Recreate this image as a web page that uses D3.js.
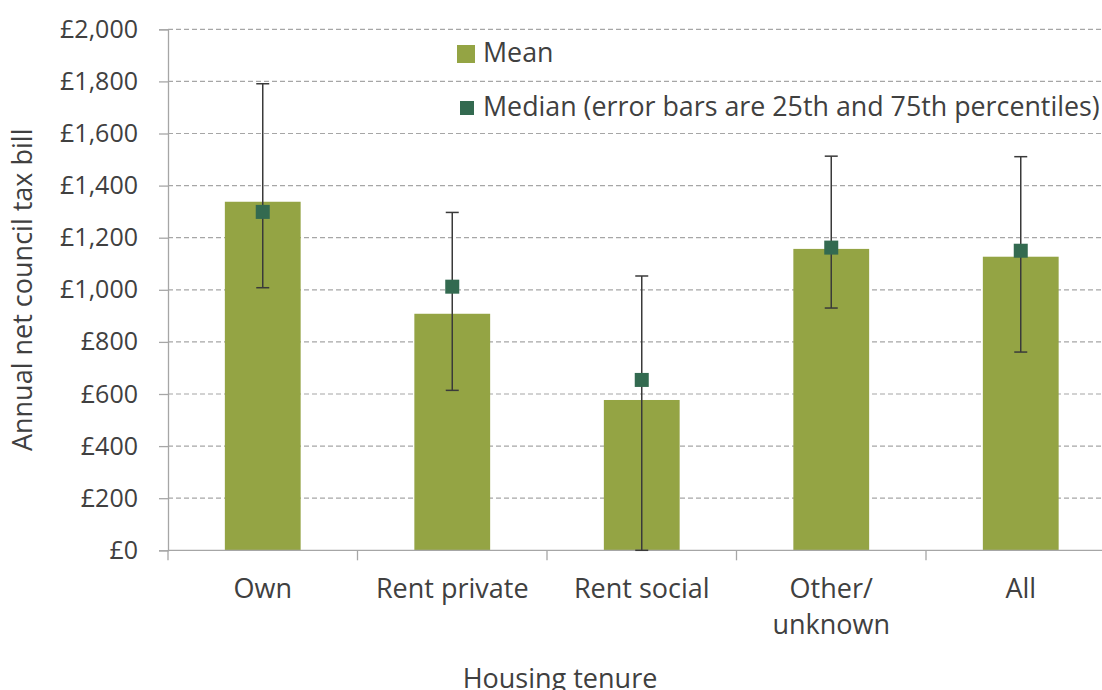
<!DOCTYPE html>
<meta charset="utf-8">
<script src="https://d3js.org/d3.v7.min.js"></script>
<style>
  body { margin: 0; background: #fff; }
  text { font-family: "Open Sans", "Noto Sans", sans-serif; fill: #404040; }
</style>
<div id="chart"></div>
<script>
// data
var categories = ["Own", "Rent private", "Rent social", "Other/\nunknown", "All"];
var meanValues = [1338, 908, 577, 1157, 1127];
var medianValues = [1299, 1012, 654, 1162, 1150];
var p25Values = [1008, 614, 0, 930, 761];
var p75Values = [1791, 1297, 1053, 1513, 1511];
var yTicks = [0, 200, 400, 600, 800, 1000, 1200, 1400, 1600, 1800, 2000];

var W = 1102, H = 690;
// plot runs past the right edge, as in the reference
var margin = {top: 29.3, right: -13.5, bottom: 139.7, left: 168};
var width = W - margin.left - margin.right,
    height = H - margin.top - margin.bottom;

var svg = d3.select("#chart").append("svg")
    .attr("width", W).attr("height", H)
  .append("g")
    .attr("transform", "translate(" + margin.left + "," + margin.top + ")");

var x = d3.scaleBand().domain(categories).range([0, width]).padding(0);
var y = d3.scaleLinear().domain([0, 2000]).range([height, 0]);
var fmt = function(d) { return "£" + d3.format(",")(d); };

// gridlines
svg.selectAll(".grid")
  .data(yTicks.filter(function(d) { return d > 0; }))
  .enter().append("line")
    .attr("x1", 0).attr("x2", width)
    .attr("y1", function(d) { return y(d); })
    .attr("y2", function(d) { return y(d); })
    .style("stroke", "#a6a6a6")
    .style("stroke-width", 1.2)
    .style("stroke-dasharray", "5,3");

// y axis
var yAxis = svg.append("g")
  .call(d3.axisLeft(y).tickValues(yTicks).tickFormat(fmt).tickSize(9).tickPadding(21));
yAxis.selectAll("line").style("stroke", "#a6a6a6").style("stroke-width", 1.3);
yAxis.select(".domain").style("stroke", "#a6a6a6").style("stroke-width", 1.3);
yAxis.selectAll("text").style("font-size", "25px").style("fill", "#404040")
  .style("font-family", "'Open Sans', sans-serif");

// bars
var barW = x.bandwidth() * 0.4;
svg.selectAll(".bar")
  .data(categories)
  .enter().append("rect")
    .attr("x", function(d) { return x(d) + (x.bandwidth() - barW) / 2; })
    .attr("y", function(d, i) { return y(meanValues[i]); })
    .attr("width", barW)
    .attr("height", function(d, i) { return height - y(meanValues[i]); })
    .style("fill", "#94a444");

// x axis (ticks at band boundaries)
var xAxisG = svg.append("g").attr("transform", "translate(0," + height + ")");
xAxisG.append("line").attr("x1", 0).attr("x2", width)
  .style("stroke", "#a6a6a6").style("stroke-width", 1.3);
xAxisG.selectAll(".xtick")
  .data(d3.range(categories.length + 1))
  .enter().append("line")
    .attr("x1", function(i) { return i * x.step(); })
    .attr("x2", function(i) { return i * x.step(); })
    .attr("y1", 0).attr("y2", 10)
    .style("stroke", "#a6a6a6").style("stroke-width", 1.3);
xAxisG.selectAll(".xlabel")
  .data(categories)
  .enter().append("text")
    .attr("text-anchor", "middle")
    .attr("transform", function(d) { return "translate(" + (x(d) + x.bandwidth() / 2) + ",48)"; })
    .style("font-size", "27px")
    .each(function(d) {
      var t = d3.select(this);
      d.split("\n").forEach(function(line, j) {
        t.append("tspan").attr("x", 0).attr("dy", j ? 36 : 0).text(line);
      });
    });

// error bars
var capW = 13;
var eb = svg.selectAll(".err")
  .data(categories)
  .enter().append("g")
    .attr("transform", function(d) { return "translate(" + (x(d) + x.bandwidth() / 2) + ",0)"; });
eb.append("line")
  .attr("y1", function(d, i) { return y(p25Values[i]); })
  .attr("y2", function(d, i) { return y(p75Values[i]); })
  .style("stroke", "#3a3a3a").style("stroke-width", 1.5);
eb.append("line")
  .attr("x1", -capW / 2).attr("x2", capW / 2)
  .attr("y1", function(d, i) { return y(p25Values[i]); })
  .attr("y2", function(d, i) { return y(p25Values[i]); })
  .style("stroke", "#3a3a3a").style("stroke-width", 1.5);
eb.append("line")
  .attr("x1", -capW / 2).attr("x2", capW / 2)
  .attr("y1", function(d, i) { return y(p75Values[i]); })
  .attr("y2", function(d, i) { return y(p75Values[i]); })
  .style("stroke", "#3a3a3a").style("stroke-width", 1.5);
eb.append("rect")
  .attr("x", -7).attr("width", 14).attr("height", 14)
  .attr("y", function(d, i) { return y(medianValues[i]) - 7; })
  .style("fill", "#336a50");

// legend
var legend = svg.append("g").attr("transform", "translate(" + (457 - margin.left) + "," + (45 - margin.top) + ")");
legend.append("rect").attr("width", 18).attr("height", 18).style("fill", "#94a444");
legend.append("text").attr("x", 26).attr("y", 17).style("font-size", "26.8px").text("Mean");
legend.append("rect").attr("x", 3).attr("y", 56).attr("width", 14).attr("height", 14).style("fill", "#336a50");
legend.append("text").attr("x", 26).attr("y", 71).style("font-size", "26.8px")
  .text("Median (error bars are 25th and 75th percentiles)");

// axis titles
svg.append("text")
  .attr("transform", "translate(" + (32 - margin.left) + "," + (height / 2) + ") rotate(-90)")
  .attr("text-anchor", "middle")
  .style("font-size", "27px")
  .text("Annual net council tax bill");
svg.append("text")
  .attr("x", 560 - margin.left).attr("y", 688 - margin.top)
  .attr("text-anchor", "middle")
  .style("font-size", "27px")
  .text("Housing tenure");
</script>
